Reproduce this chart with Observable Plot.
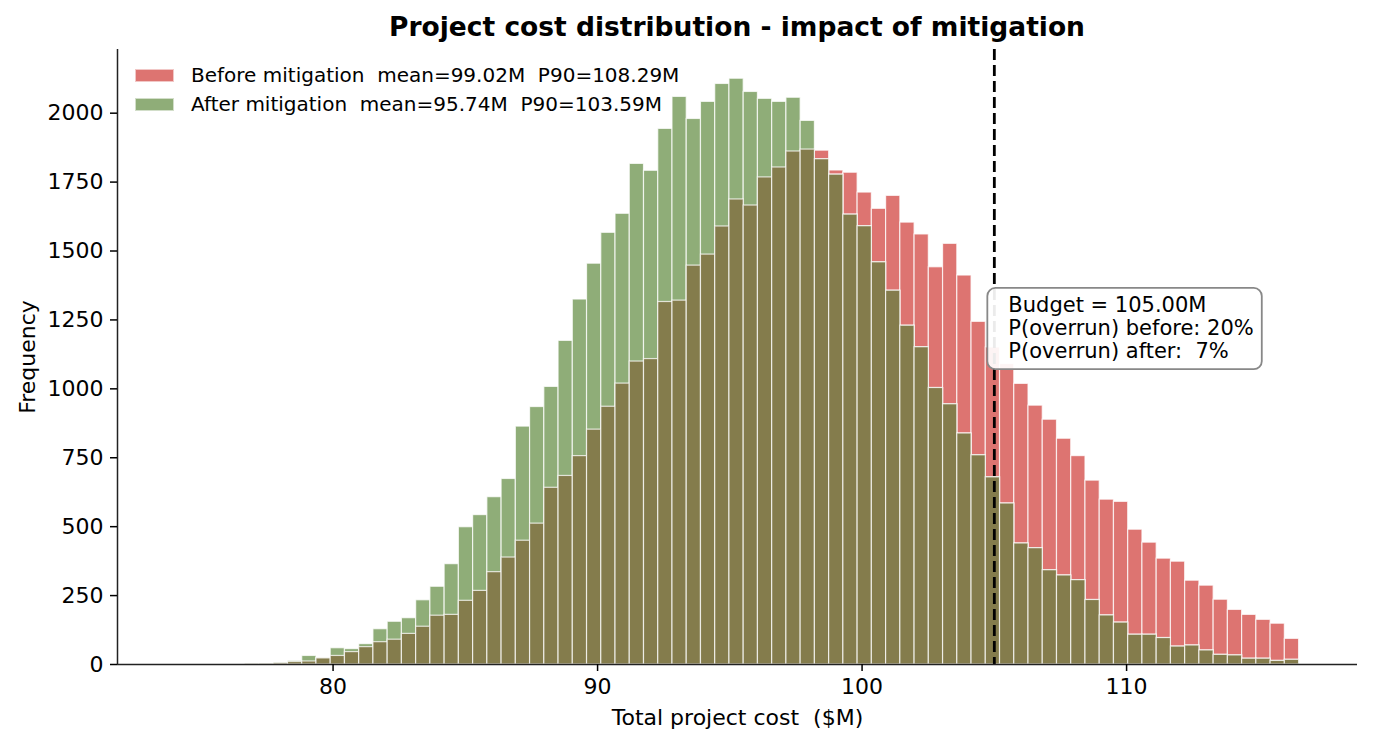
<!DOCTYPE html>
<html><head><meta charset="utf-8">
<script src="https://cdn.jsdelivr.net/npm/d3@7"></script>
<script src="https://cdn.jsdelivr.net/npm/@observablehq/plot@0.6"></script>
<style>
body{margin:0;background:#fff;font-family:"DejaVu Sans",sans-serif;}
#wrap{position:relative;width:1373px;height:745px;overflow:hidden;}
#title{height:44px;box-sizing:border-box;padding-top:14px;margin-left:117px;width:1240px;text-align:center;font-weight:bold;font-size:26.5px;line-height:1;color:#000;}
svg text{white-space:pre;}
#legend{position:absolute;left:135px;top:60.5px;font-size:20px;color:#000;}
.row{display:flex;align-items:center;height:29px;white-space:pre;}
.sw{width:39px;height:13px;margin-right:17px;box-sizing:border-box;border:1px solid rgba(255,255,255,0.6);}
</style></head><body>
<div id="wrap"><div id="title">Project cost distribution - impact of mitigation</div><div id="chart"></div><div id="legend"></div></div>
<script>
// ---- data ----
const binStart = 76.68;     // left edge of first visible bin ($M)
const binWidth = 0.5384;    // bin width ($M)
const before = [1,2,5,9,11,22,31,45,63,81,
  90,111,137,177,180,231,267,335,388,449,
  511,641,684,756,852,935,1019,1099,1108,1315,
  1320,1447,1487,1589,1687,1665,1767,1803,1861,1868,
  1864,1792,1784,1712,1653,1700,1603,1560,1441,1526,
  1411,1243,1150,1090,1018,939,888,819,756,667,
  598,590,489,442,384,373,304,286,235,198,
  180,162,148,93];
const after = [2,3,7,13,31,23,59,56,74,128,
  155,168,233,282,364,498,542,607,673,863,
  934,1007,1174,1324,1454,1566,1635,1816,1791,1943,
  2059,1979,2041,2106,2125,2077,2052,2041,2056,1972,
  1833,1777,1632,1590,1459,1356,1229,1151,1003,944,
  838,759,679,584,439,422,342,323,306,234,
  178,152,108,108,96,65,69,51,35,33,
  21,21,13,17];
const seriesLabels = ["Before mitigation  mean=99.02M  P90=108.29M",
                      "After mitigation  mean=95.74M  P90=103.59M"];
const budget = 105;
const annotY = 1222;
const annotText = "Budget = 105.00M\nP(overrun) before: 20%\nP(overrun) after:  7%";
const xTicks = [80, 90, 100, 110];
const yTicks = [0, 250, 500, 750, 1000, 1250, 1500, 1750, 2000];
const xDomain = [71.85, 118.73];
const yDomain = [0, 2231];
const xLabel = "Total project cost  ($M)";
const yLabel = "Frequency";

// ---- styles ----
const RED = "#dd7471", GREEN = "#8fad78", OLIVE = "#847c4c";
const seriesColors = [RED, GREEN];

const rows = before.map((b, i) => ({
  x1: binStart + i * binWidth,
  x2: binStart + (i + 1) * binWidth,
  before: b, after: after[i], both: Math.min(b, after[i])
}));

const barOpts = {x1: "x1", x2: "x2", y1: () => 0, stroke: "#fff", strokeOpacity: 0.75, strokeWidth: 1.2};

const plot = Plot.plot({
  width: 1373, height: 701,
  marginLeft: 117, marginRight: 16, marginTop: 5, marginBottom: 81,
  style: {fontFamily: "DejaVu Sans", fontSize: "22px", color: "#000", background: "#fff", overflow: "visible"},
  x: {domain: xDomain},
  y: {domain: yDomain},
  marks: [
    Plot.rect(rows, {...barOpts, y2: "before", fill: RED}),
    Plot.rect(rows, {...barOpts, y2: "after", fill: GREEN}),
    Plot.rect(rows, {...barOpts, y2: "both", fill: OLIVE}),
    Plot.ruleX([budget], {stroke: "#000", strokeWidth: 2.8, strokeDasharray: "11,5"}),
    Plot.ruleX([xDomain[0]], {stroke: "#222", strokeWidth: 1.5}),
    Plot.ruleY([0], {stroke: "#222", strokeWidth: 1.5}),
    Plot.axisX({ticks: xTicks, tickSize: 7, tickPadding: 7, label: null, strokeWidth: 1.5, tickFormat: d => String(d)}),
    Plot.axisY({ticks: yTicks, tickSize: 7, tickPadding: 7, label: null, strokeWidth: 1.5, tickFormat: d => String(d)}),
    Plot.text([annotText], {x: budget, y: annotY, dx: 14, textAnchor: "start", lineAnchor: "middle", lineHeight: 1.1, fontSize: 21, fill: "#000", className: "annot"}),
    Plot.text([yLabel], {frameAnchor: "left", textAnchor: "middle", rotate: -90, dx: -90, fontSize: 22, fill: "#000"}),
    Plot.text([xLabel], {frameAnchor: "bottom", textAnchor: "middle", dy: 60, fontSize: 22, fill: "#000"})
  ]
});
document.getElementById("chart").appendChild(plot);

// rounded annotation box behind the text (measured in screen space, then mapped to svg space)
const g = plot.querySelector("g.annot");
if (g) {
  const sr = plot.getBoundingClientRect();
  const tr = g.getBoundingClientRect();
  const x = tr.left - sr.left, y = tr.top - sr.top;
  const r = document.createElementNS("http://www.w3.org/2000/svg", "rect");
  r.setAttribute("x", x - 21);
  r.setAttribute("y", y - 5);
  r.setAttribute("width", tr.width + 29);
  r.setAttribute("height", tr.height + 11);
  r.setAttribute("rx", 8);
  r.setAttribute("fill", "#fff");
  r.setAttribute("fill-opacity", 0.92);
  r.setAttribute("stroke", "#888");
  r.setAttribute("stroke-width", 1.8);
  g.parentNode.insertBefore(r, g);
}

// legend
const leg = document.getElementById("legend");
seriesLabels.forEach((s, i) => {
  const row = document.createElement("div");
  row.className = "row";
  const sw = document.createElement("div");
  sw.className = "sw";
  sw.style.background = seriesColors[i];
  const t = document.createElement("span");
  t.textContent = s;
  row.appendChild(sw); row.appendChild(t);
  leg.appendChild(row);
});
</script>
</body></html>
